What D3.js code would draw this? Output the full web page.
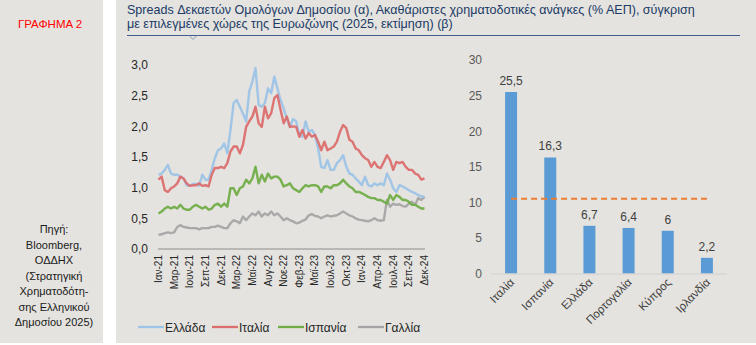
<!DOCTYPE html>
<html><head><meta charset="utf-8">
<script src="https://cdn.jsdelivr.net/npm/d3@7"></script>
<style>
body{margin:0;background:#fff;}
svg{display:block;font-family:"Liberation Sans",Arial,sans-serif;}
</style></head>
<body><svg id="c" width="756" height="345"></svg>
<script>
// ---------- DATA ----------
const xTickLabels = ["Ιαν-21","Μαρ-21","Ιουν-21","Σεπ-21","Δεκ-21","Μαρ-22","Μαϊ-22","Αυγ-22","Νοε-22","Φεβ-23","Μαϊ-23","Ιουλ-23","Οκτ-23","Ιαν-24","Απρ-24","Ιουλ-24","Σεπ-24","Δεκ-24"];
const seriesNames = ["Ελλάδα","Ιταλία","Ισπανία","Γαλλία"];
const greece = [1.21,1.23,1.29,1.37,1.23,1.21,1.21,1.18,1.15,1.04,1.03,1.06,1.06,1.03,1.21,1.13,1.13,1.29,1.48,1.61,1.64,1.72,1.56,1.94,2.38,2.43,2.32,2.21,2.08,2.57,2.73,2.95,2.35,2.32,2.38,2.62,2.54,2.81,2.62,2.43,2.29,2.13,1.99,2.12,
 2.08,1.86,1.83,2.08,1.91,1.94,1.86,1.64,1.34,1.32,1.45,1.29,1.29,1.40,1.45,1.53,1.34,1.23,1.21,1.15,1.10,1.04,1.18,1.04,1.02,1.07,1.04,1.07,1.04,1.23,1.13,0.99,0.93,1.04,1.02,0.99,0.96,0.93,0.91,0.88,0.86,0.85];
const italy = [1.13,1.18,0.96,0.93,0.99,1.02,1.07,1.18,1.15,1.07,1.03,1.04,1.04,1.07,1.03,1.04,1.02,1.21,1.32,1.32,1.34,1.32,1.40,1.59,1.67,1.67,1.56,1.70,1.99,2.08,2.16,2.32,2.05,1.99,2.32,2.13,2.21,2.46,2.51,2.27,2.05,2.16,1.99,2.00,
 1.99,1.83,1.94,1.80,1.89,1.83,1.86,1.75,1.61,1.75,1.61,1.64,1.67,1.75,1.91,2.02,1.97,1.78,1.75,1.64,1.61,1.53,1.48,1.45,1.34,1.42,1.34,1.32,1.42,1.53,1.45,1.29,1.42,1.40,1.42,1.34,1.29,1.29,1.23,1.21,1.13,1.15];
const spain = [0.58,0.61,0.66,0.69,0.66,0.69,0.66,0.72,0.66,0.64,0.64,0.69,0.72,0.69,0.66,0.69,0.64,0.66,0.72,0.74,0.69,0.74,0.69,0.99,0.99,0.88,0.99,1.02,1.13,1.07,1.15,1.34,1.07,1.21,1.10,1.23,1.15,1.18,1.18,1.13,1.02,1.04,1.07,0.99,
 0.96,0.93,0.99,1.04,1.02,1.04,1.04,1.02,0.93,1.02,1.02,0.99,1.04,1.04,1.07,1.13,1.07,1.02,0.99,0.93,0.93,0.91,0.88,0.85,0.83,0.83,0.80,0.80,0.77,0.74,0.88,0.80,0.88,0.85,0.80,0.80,0.77,0.72,0.72,0.69,0.66,0.66];
const france = [0.23,0.24,0.26,0.27,0.26,0.27,0.36,0.39,0.36,0.35,0.34,0.34,0.34,0.32,0.34,0.34,0.34,0.36,0.36,0.38,0.36,0.34,0.34,0.42,0.47,0.45,0.42,0.53,0.47,0.53,0.58,0.55,0.61,0.53,0.58,0.55,0.61,0.55,0.58,0.53,0.47,0.50,0.47,0.45,
 0.42,0.43,0.46,0.48,0.55,0.57,0.54,0.53,0.50,0.53,0.55,0.53,0.54,0.55,0.58,0.61,0.58,0.55,0.53,0.50,0.48,0.47,0.46,0.45,0.47,0.50,0.47,0.46,0.47,0.80,0.69,0.74,0.72,0.73,0.70,0.69,0.74,0.77,0.72,0.83,0.80,0.85];
const yTicksLeft = [0,0.5,1,1.5,2,2.5,3];

const countries = ["Ιταλία","Ισπανία","Ελλάδα","Πορτογαλία","Κύπρος","Ιρλανδία"];
const gfn = [25.5,16.3,6.7,6.4,6,2.2];
const gfnAverage = 10.5;
const yTicksRight = [0,5,10,15,20,25,30];

const colors = ["#9dc3e6","#dc6e6e","#70ad47","#a5a5a5"];

// ---------- DRAW ----------
const svg = d3.select("#c");
const bg = "#e4e3df";
svg.append("rect").attr("x",0).attr("y",0).attr("width",103).attr("height",343).attr("fill",bg);
svg.append("rect").attr("x",116).attr("y",0).attr("width",640).attr("height",343).attr("fill",bg);

// left panel text
svg.append("text").attr("x",50).attr("y",28).attr("text-anchor","middle")
  .attr("fill","#ff0000").attr("font-size",11.5).text("ΓΡΑΦΗΜΑ 2");
const src = ["Πηγή:","Bloomberg,","ΟΔΔΗΧ","(Στρατηγική","Χρηματοδότη-","σης Ελληνικού","Δημοσίου 2025)"];
svg.append("g").selectAll("text").data(src).join("text")
  .attr("x",54).attr("y",(d,i)=>233+i*15.5).attr("text-anchor","middle")
  .attr("fill","#1a1a1a").attr("font-size",11).text(d=>d);

// title
const titleLines = ["Spreads Δεκαετών Ομολόγων Δημοσίου (α), Ακαθάριστες χρηματοδοτικές ανάγκες (% ΑΕΠ), σύγκριση",
  "με επιλεγμένες χώρες της Ευρωζώνης (2025, εκτίμηση) (β)"];
svg.append("g").selectAll("text").data(titleLines).join("text")
  .attr("x",127).attr("y",(d,i)=>14+i*13.5).attr("fill","#203a66").attr("font-size",12.55).text(d=>d);
svg.append("path").attr("d","M127,35.5H740").attr("stroke","#3d5e8c").attr("stroke-width",1.2);
svg.append("path").attr("d","M189,35.5L193,39.5L197,35.5").attr("fill","none").attr("stroke","#8a9bb5").attr("stroke-width",1);

// left chart
const n = greece.length;
const x = d3.scaleLinear().domain([0,n-1]).range([158.5,424.5]);
const y = d3.scaleLinear().domain([0,3]).range([249,65]);
const fmt1 = d => d3.format(".1f")(d).replace(".",",");

const gy = svg.append("g").attr("transform","translate(158,0)")
  .call(d3.axisLeft(y).tickValues(yTicksLeft).tickFormat(fmt1).tickSize(0).tickPadding(10));
gy.select(".domain").remove();
gy.selectAll("text").attr("font-size",12).attr("fill","#262626").attr("font-family","Liberation Sans, Arial, sans-serif");

svg.append("line").attr("x1",158).attr("x2",425).attr("y1",y(0)).attr("y2",y(0)).attr("stroke","#8c8c8c").attr("stroke-width",1);

const tickIdx = xTickLabels.map((d,i)=>i*(n-1)/(xTickLabels.length-1));
svg.append("g").selectAll("text").data(xTickLabels).join("text")
  .attr("transform",(d,i)=>`translate(${x(tickIdx[i])+3.5},255) rotate(-90)`)
  .attr("text-anchor","end").attr("font-size",10).attr("fill","#262626").text(d=>d);

const allSeries = [greece,italy,spain,france];
const line = d3.line().x((d,i)=>x(i)).y(d=>y(d));
const order = [3,2,0,1];
order.forEach(k=>{
  svg.append("path").datum(allSeries[k]).attr("d",line).attr("fill","none")
    .attr("stroke",colors[k]).attr("stroke-width",2.4).attr("stroke-linejoin","round").attr("opacity",0.95);
});

// legend
const legX = [138,212,278,358];
const lg = svg.append("g").selectAll("g").data(seriesNames).join("g")
  .attr("transform",(d,i)=>`translate(${legX[i]},327)`);
lg.append("line").attr("x1",0).attr("x2",26).attr("stroke",(d,i)=>colors[i]).attr("stroke-width",2.3);
lg.append("text").attr("x",27).attr("y",4.5).attr("font-size",12).attr("fill","#262626").text(d=>d);

// right chart
const xb = d3.scaleBand().domain(countries).range([491.5,726.5]).paddingInner(0.694).paddingOuter(0.347);
const yb = d3.scaleLinear().domain([0,30]).range([273.5,60]);
const gyr = svg.append("g").attr("transform","translate(490,0)")
  .call(d3.axisLeft(yb).tickValues(yTicksRight).tickSize(0).tickPadding(8));
gyr.select(".domain").remove();
gyr.selectAll("text").attr("font-size",12).attr("fill","#595959").attr("font-family","Liberation Sans, Arial, sans-serif");

svg.append("g").selectAll("rect").data(gfn).join("rect")
  .attr("x",(d,i)=>xb(countries[i])).attr("width",xb.bandwidth())
  .attr("y",d=>yb(d)).attr("height",d=>yb(0)-yb(d)).attr("fill","#5b9bd5");
svg.append("line").attr("x1",491).attr("x2",727).attr("y1",yb(0)+0.5).attr("y2",yb(0)+0.5).attr("stroke","#d0d0d0").attr("stroke-width",1);

svg.append("g").selectAll("text").data(gfn).join("text")
  .attr("x",(d,i)=>xb(countries[i])+xb.bandwidth()/2).attr("y",d=>yb(d)-7)
  .attr("text-anchor","middle").attr("font-size",12).attr("fill","#404040")
  .text(d=>String(d).replace(".",","));

svg.append("line").attr("x1",xb(countries[0])+xb.bandwidth()/2).attr("x2",xb(countries[5])+xb.bandwidth()/2)
  .attr("y1",yb(gfnAverage)).attr("y2",yb(gfnAverage)).attr("stroke","#ed7d31").attr("stroke-width",2).attr("stroke-dasharray","6,4");

svg.append("g").selectAll("text").data(countries).join("text")
  .attr("transform",d=>`translate(${xb(d)+xb.bandwidth()/2+4},283) rotate(-45)`)
  .attr("text-anchor","end").attr("font-size",11.5).attr("fill","#404040").text(d=>d);
</script></body></html>
